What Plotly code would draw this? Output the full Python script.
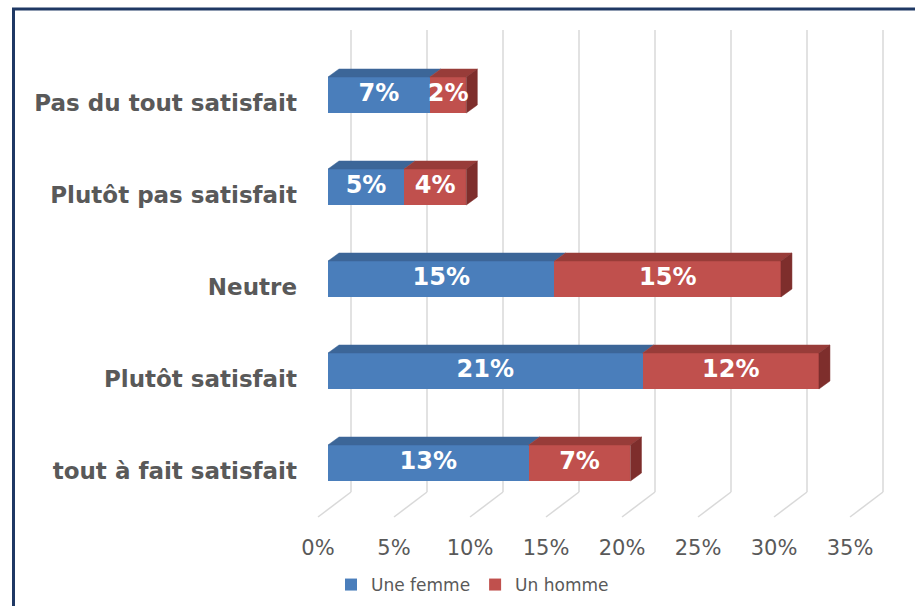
import plotly.graph_objects as go

# ---------------- data ----------------
categories = ["Pas du tout satisfait", "Plutôt pas satisfait", "Neutre",
              "Plutôt satisfait", "tout à fait satisfait"]
femme = [6.7, 5.0, 14.9, 20.7, 13.2]
homme = [2.4, 4.1, 14.9, 11.6, 6.7]
series_names = ["Une femme", "Un homme"]
tick_values = [0, 5, 10, 15, 20, 25, 30, 35]
tick_labels = ["0%", "5%", "10%", "15%", "20%", "25%", "30%", "35%"]

# ---------------- geometry / style ----------------
W, H = 915, 606
ML, MR, MT, MB = 305, 10, 20, 81
PX_PER_UNIT = 15.2      # pixels per percentage point
PX_PER_CAT = 92         # pixels between categories
X0_PX = 328             # pixel of 0% on the bar plane
YTOP_PX = 95            # pixel of the first category centre
BAR_W = 0.391

BLUE, BLUE_TOP = "#4A7EBB", "#3C6698"
RED, RED_TOP, RED_SIDE = "#C0504D", "#983C39", "#7E2E2C"
GRID = "#D9D9D9"
TXT = "#595959"
FONT = "DejaVu Sans"

plot_w = W - ML - MR
plot_h = H - MT - MB
n = len(categories)
xmin = -(X0_PX - ML) / PX_PER_UNIT
xmax = xmin + plot_w / PX_PER_UNIT
ymax = (n - 1) + (YTOP_PX - MT) / PX_PER_CAT
ymin = ymax - plot_h / PX_PER_CAT


def ux(px):
    return px / PX_PER_UNIT


def uy(px):
    return px / PX_PER_CAT


def ydata(py):
    return ymax - (py - MT) / PX_PER_CAT


DEPTH_X, DEPTH_Y = ux(11), uy(8)
ypos = [n - 1 - i for i in range(n)]

fig = go.Figure()

# front faces
fig.add_trace(go.Bar(orientation="h", y=ypos, x=femme, width=BAR_W,
                     marker=dict(color=BLUE, line=dict(width=0)),
                     name=series_names[0], hoverinfo="skip"))
fig.add_trace(go.Bar(orientation="h", y=ypos, x=homme, width=BAR_W,
                     marker=dict(color=RED, line=dict(width=0)),
                     name=series_names[1], hoverinfo="skip"))

# 3D top and side faces
def top_face(starts, vals):
    xs, ys = [], []
    for y, b, v in zip(ypos, starts, vals):
        yt = y + BAR_W / 2
        e = b + v
        xs += [b, e, e + DEPTH_X, b + DEPTH_X, b, None]
        ys += [yt, yt, yt + DEPTH_Y, yt + DEPTH_Y, yt, None]
    return xs, ys


bx, by = top_face([0] * n, femme)
rx, ry = top_face(femme, homme)
sx, sy = [], []
for y, f, h in zip(ypos, femme, homme):
    e = f + h
    yt, yb = y + BAR_W / 2, y - BAR_W / 2
    sx += [e, e, e + DEPTH_X, e + DEPTH_X, e, None]
    sy += [yb, yt, yt + DEPTH_Y, yb + DEPTH_Y, yb, None]

for xs, ys, col in [(bx, by, BLUE_TOP), (rx, ry, RED_TOP), (sx, sy, RED_SIDE)]:
    fig.add_trace(go.Scatter(x=xs, y=ys, fill="toself", fillcolor=col,
                             mode="lines", line=dict(width=0.5, color=col),
                             showlegend=False, hoverinfo="skip"))

# data labels
lx, ly, lt = [], [], []
for y, f, h in zip(ypos, femme, homme):
    lx += [f / 2, f + h / 2]
    ly += [y, y]
    lt += [f"{round(f)}%", f"{round(h)}%"]
fig.add_trace(go.Scatter(x=lx, y=ly, text=lt, mode="text",
                         textfont=dict(family=FONT, size=24, color="white", weight="bold"),
                         showlegend=False, hoverinfo="skip", cliponaxis=False))

# gridlines (back wall + floor), drawn behind
shapes = []
for v in tick_values:
    xb = v + ux(23)
    xf = v - ux(10)
    shapes.append(dict(type="line", xref="x", yref="y", layer="below",
                       x0=xb, x1=xb, y0=ydata(30), y1=ydata(492),
                       line=dict(color=GRID, width=1.5)))
    shapes.append(dict(type="line", xref="x", yref="y", layer="below",
                       x0=xb, x1=xf, y0=ydata(492), y1=ydata(517),
                       line=dict(color=GRID, width=1.5)))


# outer frame
def paper_x(px):
    return (px - ML) / plot_w


def paper_y(py):
    return (H - MB - py) / plot_h


shapes.append(dict(type="rect", xref="paper", yref="paper",
                   x0=paper_x(13.5), x1=paper_x(930), y0=paper_y(620), y1=paper_y(9),
                   line=dict(color="#1F3864", width=3), fillcolor="rgba(0,0,0,0)"))

fig.update_layout(
    width=W, height=H,
    margin=dict(l=ML, r=MR, t=MT, b=MB, autoexpand=False),
    paper_bgcolor="white", plot_bgcolor="white",
    barmode="stack", bargap=0,
    shapes=shapes,
    showlegend=True,
    legend=dict(orientation="h", x=paper_x(331), xanchor="left",
                y=paper_y(585), yanchor="middle", traceorder="normal",
                font=dict(family=FONT, size=17, color=TXT),
                itemclick=False, itemdoubleclick=False),
    xaxis=dict(range=[xmin, xmax], showgrid=False, zeroline=False, showline=False,
               tickmode="array", tickvals=[v - ux(10) for v in tick_values],
               ticktext=tick_labels, ticks="", ticklabelstandoff=8, automargin=False,
               tickfont=dict(family=FONT, size=21, color=TXT), fixedrange=True),
    yaxis=dict(range=[ymin, ymax], showgrid=False, zeroline=False, showline=False,
               tickmode="array", tickvals=[y - uy(8) for y in ypos],
               ticktext=categories, ticks="", ticklabelstandoff=7, automargin=False,
               tickfont=dict(family=FONT, size=23, color=TXT, weight="bold"),
               fixedrange=True),
)

fig.write_html("out.html", config={"displayModeBar": False},
               post_script="document.body.style.margin='0';")
